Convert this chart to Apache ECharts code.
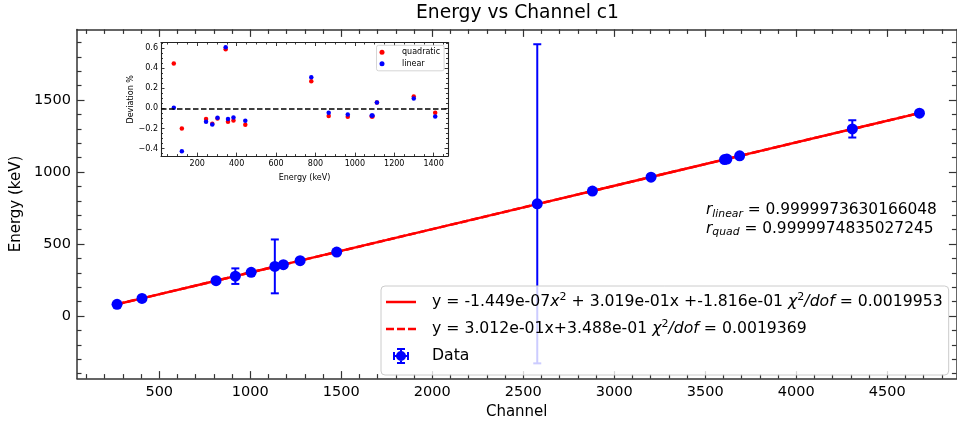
<!DOCTYPE html>
<html>
<head>
<meta charset="utf-8">
<script src="https://cdn.jsdelivr.net/npm/echarts@6/dist/echarts.min.js"></script>
<style>
  html, body { margin: 0; padding: 0; background: #fff; }
  #chart { width: 957px; height: 428px; }
</style>
</head>
<body>
<div id="chart"></div>
<script>
// Calibration peaks: line energy (keV), fitted channel, energy uncertainty (keV)
const energies = [81.00, 121.78, 244.70, 276.40, 302.85, 344.28, 356.01, 383.85, 443.96,
                  778.90, 867.38, 964.08, 1085.84, 1089.74, 1112.08, 1299.14, 1408.01];
const channels = [268, 405, 812, 918, 1005, 1135, 1182, 1274, 1475,
                  2577, 2880, 3202, 3606, 3619, 3689, 4308, 4677];
const energyErr = [0, 0, 0, 54, 0, 187, 0, 0, 0,
                   1108, 0, 0, 0, 0, 0, 60, 0];

// Residuals of each calibration (%)
const devQuad = [0.447, -0.200, -0.107, -0.153, -0.100, 0.587, -0.133, -0.120, -0.163,
                 0.270, -0.077, -0.083, -0.080, -0.080, 0.057, 0.117, -0.043];
const devLin  = [0.007, -0.427, -0.133, -0.160, -0.093, 0.607, -0.107, -0.090, -0.123,
                 0.310, -0.043, -0.060, -0.070, -0.070, 0.057, 0.097, -0.080];

// Fit results
const quadCoef = [-1.449e-07, 3.019e-01, -1.816e-01];   // a x^2 + b x + c
const linCoef  = [3.012e-01, 3.488e-01];                // m x + q
const chiQuad = '0.0019953';
const chiLin  = '0.0019369';
const rLinear = '0.9999973630166048';
const rQuad   = '0.9999974835027245';

// Tick positions
function steps(a, b, s, skip) {
  const out = [];
  for (let v = a; v <= b + 1e-9; v += s) {
    const r = Math.round(v * 1000) / 1000;
    if (!skip || Math.abs(r / skip - Math.round(r / skip)) > 1e-6) out.push(r);
  }
  return out;
}
const xMajor = [500, 1000, 1500, 2000, 2500, 3000, 3500, 4000, 4500];
const xMinor = steps(100, 4800, 100, 500);
const yMajor = [0, 500, 1000, 1500];
const yMinor = steps(-400, 1900, 100, 500);
const insetXMajor = [200, 400, 600, 800, 1000, 1200, 1400];
const insetXMinor = steps(50, 1450, 50, 200);
const insetYMajor = [-0.4, -0.2, 0.0, 0.2, 0.4, 0.6];
const insetYMinor = steps(-0.45, 0.65, 0.05, 0.2);

const FONT = 'DejaVu Sans';
const BLUE = '#0000ff';
const RED = '#ff0000';

function sci(v) {
  return v.toExponential(3).replace(/e([+-])(\d)$/, 'e$10$2');
}

const quadName = 'quadFit';
const linName = 'linFit';
const legendText = {};
legendText[quadName] = 'y = ' + sci(quadCoef[0]) + '{i|x}{sup|2} + ' + sci(quadCoef[1]) + 'x +' +
  sci(quadCoef[2]) + ' {i|\u03c7}{sup|2}{i|/dof} = ' + chiQuad;
legendText[linName] = 'y = ' + sci(linCoef[0]) + 'x+' + sci(linCoef[1]) +
  ' {i|\u03c7}{sup|2}{i|/dof} = ' + chiLin;
legendText['Data'] = 'Data';

const quadLine = channels.map(c => [c, quadCoef[0] * c * c + quadCoef[1] * c + quadCoef[2]]);
const linLine = channels.map(c => [c, linCoef[0] * c + linCoef[1]]);

// Four axes per dimension: major + minor ticks on both sides
function buildAxes(dim, gridIndex, cfg) {
  const sides = dim === 'x' ? ['bottom', 'top'] : ['left', 'right'];
  const list = [];
  const tickStyle = { color: cfg.spine, width: cfg.tickWidth };
  sides.forEach((pos, k) => {
    list.push({
      type: 'value', gridIndex, position: pos, min: cfg.min, max: cfg.max,
      splitLine: { show: false },
      axisLine: { show: true, onZero: false, lineStyle: { color: cfg.spine, width: cfg.spineWidth } },
      axisTick: { show: true, inside: true, length: cfg.majorLen, customValues: cfg.majors, lineStyle: tickStyle },
      axisLabel: k === 0 ? {
        show: true, customValues: cfg.majors, formatter: cfg.fmt, margin: cfg.margin,
        fontFamily: FONT, fontSize: cfg.fontSize, color: '#000'
      } : { show: false },
      name: k === 0 ? cfg.name : '',
      nameLocation: 'middle', nameGap: cfg.nameGap,
      nameTextStyle: { fontFamily: FONT, fontSize: cfg.nameSize, color: '#000' }
    });
    list.push({
      type: 'value', gridIndex, position: pos, min: cfg.min, max: cfg.max,
      splitLine: { show: false },
      axisLine: { show: false, onZero: false },
      axisTick: { show: true, inside: true, length: cfg.minorLen, customValues: cfg.minors, lineStyle: tickStyle },
      axisLabel: { show: false }
    });
  });
  return list;
}

const mainStyle = { spine: '#333', spineWidth: 1.5, tickWidth: 1.2, majorLen: 7.5, minorLen: 4.5,
                    fontSize: 14.5, nameSize: 15, margin: 6 };
const insetStyle = { spine: '#222', spineWidth: 1.1, tickWidth: 0.9, majorLen: 3.5, minorLen: 2,
                     fontSize: 8, nameSize: 8, margin: 3 };

const xAxes = [].concat(
  buildAxes('x', 0, Object.assign({}, mainStyle, {
    min: 48, max: 4880, majors: xMajor, minors: xMinor, fmt: v => String(v),
    name: 'Channel', nameGap: 25 })),
  buildAxes('x', 1, Object.assign({}, insetStyle, {
    min: 16, max: 1473, majors: insetXMajor, minors: insetXMinor, fmt: v => String(v),
    name: 'Energy (keV)', nameGap: 18, margin: 4 }))
);
const yAxes = [].concat(
  buildAxes('y', 0, Object.assign({}, mainStyle, {
    min: -435, max: 1990, majors: yMajor, minors: yMinor, fmt: v => String(v),
    name: 'Energy (keV)', nameGap: 46 })),
  buildAxes('y', 1, Object.assign({}, insetStyle, {
    min: -0.475, max: 0.655, majors: insetYMajor, minors: insetYMinor,
    fmt: v => (v < 0 ? '\u2212' : '') + Math.abs(v).toFixed(1),
    name: 'Deviation %', nameGap: 25 }))
);

// Legend glyphs: solid line, dashed line, marker with error bars
const solidIcon = 'path://M0 0h30v2.5H0Z';
const dashedIcon = 'path://M0 0h8v2.5H0Z M11 0h8v2.5h-8Z M22 0h8v2.5h-8Z';
const dataIcon = 'path://M0 7h16v2H0Z M0 4h2v8H0Z M14 4h2v8h-2Z M7 0h2v16H7Z M4 0h8v2H4Z M4 14h8v2H4Z ' +
                 'M3 8A5 5 0 1 1 13 8A5 5 0 1 1 3 8Z';

const chart = echarts.init(document.getElementById('chart'), null, { renderer: 'canvas' });
chart.setOption({
  animation: false,
  backgroundColor: '#fff',
  textStyle: { fontFamily: FONT },
  grid: [
    { left: 77, top: 29.4, width: 879.4, height: 349.2, containLabel: false, outerBoundsMode: 'none' },
    { left: 161, top: 42.5, width: 287, height: 113.6, containLabel: false, outerBoundsMode: 'none',
      show: true, backgroundColor: '#fff', borderWidth: 0 }
  ],
  xAxis: xAxes,
  yAxis: yAxes,
  legend: [
    {
      orient: 'vertical', left: 381, top: 286,
      itemWidth: 30, itemHeight: 16, itemGap: 7,
      padding: [6, 6, 9, 5],
      backgroundColor: 'rgba(255,255,255,0.8)', borderColor: '#cccccc', borderWidth: 1, borderRadius: 4,
      selectedMode: false,
      data: [{ name: quadName, icon: solidIcon }, { name: linName, icon: dashedIcon },
             { name: 'Data', icon: dataIcon }],
      formatter: name => legendText[name],
      textStyle: {
        fontFamily: FONT, fontSize: 15.7, color: '#000', lineHeight: 20, padding: [0, 0, 0, 11],
        rich: {
          i: { fontFamily: FONT, fontSize: 15.7, fontStyle: 'italic', lineHeight: 20 },
          sup: { fontFamily: FONT, fontSize: 11, lineHeight: 8, verticalAlign: 'top' }
        }
      }
    },
    {
      orient: 'vertical', left: 376.5, top: 45.3,
      itemWidth: 16, itemHeight: 5, itemGap: 3.5,
      padding: [3, 4, 3, 3],
      backgroundColor: 'rgba(255,255,255,0.8)', borderColor: '#cccccc', borderWidth: 0.8, borderRadius: 2,
      selectedMode: false,
      data: ['quadratic', 'linear'],
      textStyle: { fontFamily: FONT, fontSize: 8, color: '#000', lineHeight: 8, padding: [0, 0, 0, 7] }
    }
  ],
  graphic: [
    { type: 'text', x: 517.5, y: 13.5, silent: true,
      style: { text: 'Energy vs Channel c1', fontFamily: FONT, fontSize: 18.7, fill: '#000',
               align: 'center', verticalAlign: 'middle' } },
    { type: 'text', x: 706, y: 201, silent: true,
      style: {
        text: '{r|r}{sub|linear}{t| = ' + rLinear + '}\n{r|r}{sub|quad}{t| = ' + rQuad + '}',
        fill: '#000',
        rich: {
          r: { fontFamily: FONT, fontSize: 15.4, fontStyle: 'italic', lineHeight: 18.5 },
          sub: { fontFamily: FONT, fontSize: 10.8, fontStyle: 'italic', lineHeight: 8, verticalAlign: 'bottom' },
          t: { fontFamily: FONT, fontSize: 15.4, lineHeight: 18.5 }
        }
      } }
  ],
  series: [
    { name: quadName, type: 'line', xAxisIndex: 0, yAxisIndex: 0, data: quadLine,
      symbol: 'none', silent: true, z: 1, color: RED,
      lineStyle: { color: RED, width: 2.5 } },
    { name: linName, type: 'line', xAxisIndex: 0, yAxisIndex: 0, data: linLine,
      symbol: 'none', silent: true, z: 1, color: RED,
      lineStyle: { color: RED, width: 2.5, type: [7.5, 3.2] } },
    { name: 'Data', type: 'custom', xAxisIndex: 0, yAxisIndex: 0, z: 2, silent: true, color: BLUE,
      data: channels.map((c, i) => [c, energies[i], energyErr[i]]),
      encode: { x: 0, y: 1 },
      renderItem: (params, api) => {
        const x = api.value(0), y = api.value(1), e = api.value(2);
        const top = api.coord([x, y + e]);
        const bot = api.coord([x, y - e]);
        const st = { stroke: BLUE, lineWidth: 2 };
        return { type: 'group', children: [
          { type: 'line', shape: { x1: top[0], y1: top[1], x2: bot[0], y2: bot[1] }, style: st },
          { type: 'line', shape: { x1: top[0] - 4, y1: top[1], x2: top[0] + 4, y2: top[1] }, style: st },
          { type: 'line', shape: { x1: bot[0] - 4, y1: bot[1], x2: bot[0] + 4, y2: bot[1] }, style: st }
        ] };
      } },
    { name: 'Data', type: 'scatter', xAxisIndex: 0, yAxisIndex: 0, z: 3, silent: true,
      data: channels.map((c, i) => [c, energies[i]]),
      symbol: 'circle', symbolSize: 11, itemStyle: { color: BLUE, opacity: 1 } },
    { name: 'quadratic', type: 'scatter', xAxisIndex: 4, yAxisIndex: 4, z: 3, silent: true,
      data: energies.map((e, i) => [e, devQuad[i]]),
      symbol: 'circle', symbolSize: 4.5, itemStyle: { color: RED, opacity: 1 } },
    { name: 'linear', type: 'scatter', xAxisIndex: 4, yAxisIndex: 4, z: 4, silent: true,
      data: energies.map((e, i) => [e, devLin[i]]),
      symbol: 'circle', symbolSize: 4.5, itemStyle: { color: BLUE, opacity: 1 },
      markLine: { silent: true, symbol: 'none', label: { show: false },
        lineStyle: { color: '#000', width: 1.6, type: [5.5, 2.5] },
        data: [{ yAxis: 0 }] } }
  ]
});
</script>
</body>
</html>
